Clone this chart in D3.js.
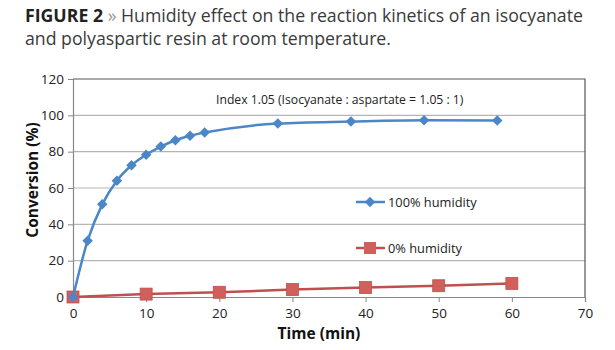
<!DOCTYPE html>
<html>
<head>
<meta charset="utf-8">
<script src="https://cdn.jsdelivr.net/npm/d3@7"></script>
<style>
  body { margin: 0; background: #fff; }
  svg text { font-family: "Open Sans", sans-serif; }
</style>
</head>
<body>
<div id="chart"></div>
<script>
// data
const humid100Time = [0, 2, 4, 6, 8, 10, 12, 14, 16, 18, 28, 38, 48, 58];
const humid100Conv = [0, 31, 51, 64, 72.5, 78.3, 82.8, 86.3, 88.8, 90.5, 95.5, 96.6, 97.3, 97.1];
const humid0Time = [0, 10, 20, 30, 40, 50, 60];
const humid0Conv = [0, 1.6, 2.6, 4.1, 5.2, 6.2, 7.5];
const xTicks = [0, 10, 20, 30, 40, 50, 60, 70];
const yTicks = [0, 20, 40, 60, 80, 100, 120];

const svgWidth = 615;
const svgHeight = 350;
const margin = { top: 79, left: 73, right: 30, bottom: 53 };
const width = 585 - margin.left;
const height = 297 - margin.top;

const svg = d3.select("#chart")
    .append("svg")
    .attr("width", svgWidth)
    .attr("height", svgHeight);

// title
const title = svg.append("text")
    .attr("x", 25)
    .attr("y", 22)
    .attr("font-size", "17.7px")
    .attr("fill", "#3a3a3a");
title.append("tspan").text("FIGURE 2 ").attr("font-weight", "bold").attr("fill", "#222");
title.append("tspan").text("» ").attr("fill", "#9a9a9a");
title.append("tspan").text("Humidity effect on the reaction kinetics of an isocyanate");
svg.append("text")
    .attr("x", 25)
    .attr("y", 45)
    .attr("font-size", "17.7px")
    .attr("fill", "#3a3a3a")
    .text("and polyaspartic resin at room temperature.");

const g = svg.append("g")
    .attr("transform", `translate(${margin.left},${margin.top})`);

const x = d3.scaleLinear().domain([0, 70]).range([0, width]);
const y = d3.scaleLinear().domain([0, 120]).range([height, 0]);

// gridlines
g.selectAll(".grid")
    .data(yTicks.filter(d => d > 0 && d < 120))
    .enter()
    .append("line")
    .attr("x1", 0)
    .attr("x2", width)
    .attr("y1", d => y(d))
    .attr("y2", d => y(d))
    .attr("stroke", "#b5b5b5")
    .attr("stroke-width", 1.2);

// plot border on top and right
g.append("path")
    .attr("d", `M0,0H${width}V${height}`)
    .attr("fill", "none")
    .attr("stroke", "#555")
    .attr("stroke-width", 1.2);

// axes
const xAxis = g.append("g")
    .attr("transform", `translate(0,${height})`)
    .call(d3.axisBottom(x).tickValues(xTicks).tickSize(5).tickPadding(6));
const yAxis = g.append("g")
    .call(d3.axisLeft(y).tickValues(yTicks).tickSize(5).tickPadding(4));
[xAxis, yAxis].forEach(a => {
    a.select(".domain").attr("stroke", "#888").attr("stroke-width", 1.2);
    a.selectAll(".tick line").attr("stroke", "#888");
    a.selectAll("text")
        .attr("font-family", "'Open Sans', sans-serif")
        .attr("font-size", "13.5px")
        .attr("fill", "#222");
});

// 0% humidity line (drawn first)
const line = d3.line().x(d => x(d[0])).y(d => y(d[1]));
const red = "#c0504d";
const blue = "#4a86c8";
const redData = d3.zip(humid0Time, humid0Conv);
const blueData = d3.zip(humid100Time, humid100Conv);

g.append("path")
    .datum(redData)
    .attr("d", line)
    .attr("fill", "none")
    .attr("stroke", red)
    .attr("stroke-width", 2.5);
g.selectAll(".sq")
    .data(redData)
    .enter()
    .append("rect")
    .attr("x", d => x(d[0]) - 6)
    .attr("y", d => y(d[1]) - 6)
    .attr("width", 12)
    .attr("height", 12)
    .attr("fill", "#d0605c")
    .attr("stroke", "#c0504d")
    .attr("stroke-width", 0.8);

// 100% humidity line
g.append("path")
    .datum(blueData)
    .attr("d", line.curve(d3.curveMonotoneX))
    .attr("fill", "none")
    .attr("stroke", blue)
    .attr("stroke-width", 2.5);
const diamond = d3.symbol().type(d3.symbolDiamond2).size(70);
g.selectAll(".dia")
    .data(blueData)
    .enter()
    .append("path")
    .attr("d", diamond)
    .attr("transform", d => `translate(${x(d[0])},${y(d[1])})`)
    .attr("fill", blue);

// annotation
svg.append("text")
    .attr("x", 216)
    .attr("y", 104)
    .attr("font-size", "12.2px")
    .attr("fill", "#222")
    .text("Index 1.05 (Isocyanate : aspartate = 1.05 : 1)");

// legend
const legend = [
    { label: "100% humidity", color: blue, y: 202, shape: "diamond" },
    { label: "0% humidity", color: red, y: 248, shape: "square" }
];
legend.forEach(l => {
    svg.append("line")
        .attr("x1", 356).attr("x2", 385)
        .attr("y1", l.y).attr("y2", l.y)
        .attr("stroke", l.color).attr("stroke-width", 2.5);
    if (l.shape === "diamond") {
        svg.append("path").attr("d", diamond)
            .attr("transform", `translate(370,${l.y})`)
            .attr("fill", l.color);
    } else {
        svg.append("rect")
            .attr("x", 364).attr("y", l.y - 6)
            .attr("width", 12).attr("height", 12)
            .attr("fill", "#d0605c");
    }
    svg.append("text")
        .attr("x", 388)
        .attr("y", l.y + 4.5)
        .attr("font-size", "12.8px")
        .attr("fill", "#222")
        .text(l.label);
});

// axis titles
svg.append("text")
    .attr("x", margin.left + width / 2 - 10)
    .attr("y", 339)
    .attr("text-anchor", "middle")
    .attr("font-size", "15.5px")
    .attr("font-weight", "bold")
    .attr("fill", "#111")
    .text("Time (min)");
svg.append("text")
    .attr("transform", "translate(38,180) rotate(-90)")
    .attr("text-anchor", "middle")
    .attr("font-size", "15.5px")
    .attr("font-weight", "bold")
    .attr("fill", "#111")
    .text("Conversion (%)");
</script>
</body>
</html>
